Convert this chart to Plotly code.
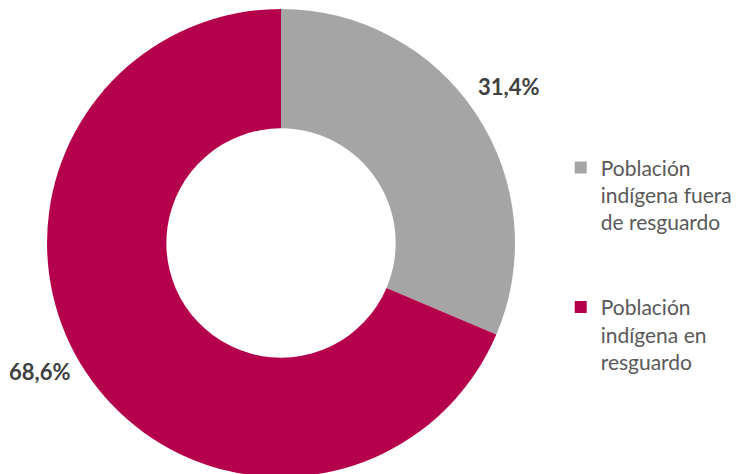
import math
import plotly.graph_objects as go

labels = ["Población<br>indígena fuera<br>de resguardo<br> <br> ", "Población<br>indígena en<br>resguardo"]
values = [31.4, 68.6]
colors = ["#A5A5A5", "#B5004B"]

W, H = 752, 474
dom_x = [0.0519, 0.6742]
dom_y = [0.0105, 0.9979]
label_angle_nudge = [-1.0, 5.5]   # degrees, fine placement of outside labels
label_radius = [276, 274]         # px from centre

fig = go.Figure(go.Pie(
    labels=labels, values=values, sort=False, direction="clockwise", rotation=0,
    hole=0.49, marker=dict(colors=colors, line=dict(width=0)),
    textinfo="none", domain=dict(x=dom_x, y=dom_y),
))

# percentage labels placed outside the ring along each slice's mid angle
cx = (dom_x[0] + dom_x[1]) / 2 * W
cy = (1 - (dom_y[0] + dom_y[1]) / 2) * H
total = sum(values)
cum = 0.0
for i, v in enumerate(values):
    mid = (cum + v / 2) / total * 2 * math.pi + math.radians(label_angle_nudge[i])
    cum += v
    r = label_radius[i]
    px = cx + r * math.sin(mid)
    py = cy - r * math.cos(mid)
    fig.add_annotation(x=px / W, y=1 - py / H, xref="paper", yref="paper",
                       xanchor="center", yanchor="middle",
                       text=("%.1f%%" % v).replace(".", ","), showarrow=False,
                       font=dict(family="Lato", size=22, color="#404040", weight="bold"))

fig.update_layout(
    width=W, height=H, margin=dict(l=0, r=0, t=0, b=0, autoexpand=False),
    paper_bgcolor="white", plot_bgcolor="white",
    font=dict(family="Lato", color="#595959"),
    legend=dict(x=0.735, y=0.706, xanchor="left", yanchor="top", valign="top",
                font=dict(size=21, color="#595959"), traceorder="normal"),
    showlegend=True,
)
fig.write_html("out.html")
